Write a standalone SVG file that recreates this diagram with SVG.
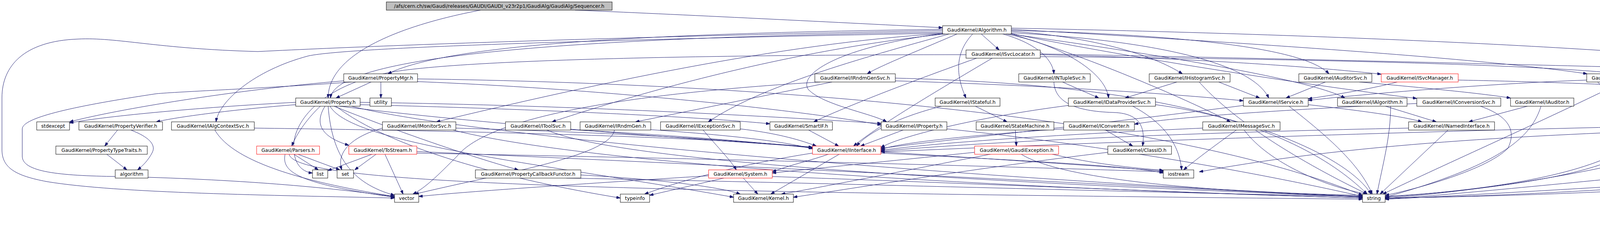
<svg xmlns="http://www.w3.org/2000/svg" width="4728" height="635" viewBox="0 0 4728 635">
<style>
.n rect{fill:#fff;stroke:#000;stroke-width:1}
.n.r rect{stroke:#ff0000}
.n.root rect{fill:#bfbfbf}
.n text{font-family:"DejaVu Sans","Liberation Sans",sans-serif;font-size:12.4px;text-anchor:middle;fill:#000}
.e path{fill:none;stroke:#191970;stroke-width:1;marker-end:url(#a)}
</style>
<defs>
<marker id="a" markerWidth="10" markerHeight="7" refX="10" refY="3.5" orient="auto" markerUnits="userSpaceOnUse"><path d="M0,0 L10,3.5 L0,7 z" fill="#191970" stroke="#191970" stroke-width="1"/></marker>
</defs>
<rect width="4728" height="635" fill="#fff"/>
<g id="edges" class="e">
<path d="M1472,26 C1700,35 2200,60 2413,71"/>
<path d="M1230,26 C1050,60 840,130 840,251"/>
<path d="M2512,87 L2558,128"/>
<path d="M2490,87 C2440,140 2450,200 2473,251"/>
<path d="M2567,87 C2650,110 2695,150 2698,189"/>
<path d="M2589,80 C2800,95 2950,140 3027,189"/>
<path d="M2575,87 C2700,110 2830,180 2838,251"/>
<path d="M2589,78 C2900,85 3330,110 3402,189"/>
<path d="M2589,84 C2900,100 3200,150 3248,251"/>
<path d="M2585,87 C2900,130 3350,200 3443,251"/>
<path d="M2589,86 C2900,150 3400,225 3627,252"/>
<path d="M2589,75 C3200,110 3800,150 4063,189"/>
<path d="M2589,72 C3500,90 4300,130 4600,175 C4720,195 4723,200 4723,260 L4723,380 C4723,430 4650,445 4400,475 C4000,500 3700,505 3546,507"/>
<path d="M2413,78 C1800,90 1100,110 660,132 C400,125 300,95 200,100 C60,105 5,170 5,250 L5,383 C5,430 40,450 120,465 C300,495 700,500 1010,507"/>
<path d="M2413,75 C1700,85 1150,110 993,189"/>
<path d="M2413,82 C1600,95 860,130 846,251"/>
<path d="M2413,85 C1600,100 900,120 790,143 C650,180 560,260 553,312"/>
<path d="M2413,86 C2000,110 1500,220 1117,312"/>
<path d="M2420,87 C2000,130 1600,250 1413,312"/>
<path d="M2450,87 C2350,130 2250,170 2220,189"/>
<path d="M2430,87 C2200,150 1950,220 1813,312"/>
<path d="M2413,86 C2150,120 2040,190 2070,230 C2110,270 2230,290 2270,312"/>
<path d="M2589,87 C2800,150 3050,260 3150,312"/>
<path d="M2500,149 C2300,220 2150,280 2083,312"/>
<path d="M2663,140 C3100,150 3400,175 3536,190"/>
<path d="M2663,145 C3300,150 4000,165 4200,195 C4300,215 4380,235 4400,251"/>
<path d="M2473,140 C1900,140 1200,150 1000,185 C820,220 755,310 752,370 C750,415 770,440 800,443"/>
<path d="M2540,149 C2420,220 2250,320 2185,374"/>
<path d="M2663,138 C3300,150 4300,175 4560,183 C4650,190 4672,230 4672,280 L4672,380 C4672,430 4620,445 4500,455 C4100,480 3700,503 3546,510"/>
<path d="M2497,272 L2578,312"/>
<path d="M2410,272 C2300,300 2220,340 2193,374"/>
<path d="M2720,210 L2813,251"/>
<path d="M2698,210 C2700,260 2750,285 2850,288 C2930,290 2930,340 2925,374"/>
<path d="M3013,210 L2880,251"/>
<path d="M3120,210 L3225,251"/>
<path d="M3070,210 C3150,300 3300,400 3500,497"/>
<path d="M3393,210 L3292,251"/>
<path d="M3480,210 C3650,225 3800,240 3867,251"/>
<path d="M3577,210 C3500,230 3400,245 3349,253"/>
<path d="M3733,205 C4000,210 4400,225 4527,247 C4600,262 4620,290 4620,320 L4620,385 C4620,420 4550,440 4310,473 C3900,500 3700,505 3546,507"/>
<path d="M4173,210 L4230,312"/>
<path d="M4182,210 C4280,260 4360,295 4398,312"/>
<path d="M4062,205 C3800,215 3500,240 3349,257"/>
<path d="M4153,210 C3950,310 3700,420 3540,497"/>
<path d="M4090,210 C4180,300 4190,360 4100,410 C3950,470 3700,495 3546,503"/>
<path d="M2735,270 C2500,300 2300,350 2255,378"/>
<path d="M2958,268 C3200,300 3450,400 3510,497"/>
<path d="M2900,272 C2990,320 3020,380 3025,435"/>
<path d="M3349,268 C3500,285 3600,300 3640,312"/>
<path d="M3183,270 C2800,320 2400,360 2255,380"/>
<path d="M3300,272 C3400,350 3480,420 3513,497"/>
<path d="M3547,272 L3677,312"/>
<path d="M3560,272 C3560,350 3540,420 3525,497"/>
<path d="M3627,265 C3300,280 3000,300 2904,318"/>
<path d="M3790,272 C3870,300 3880,340 3860,380 C3800,440 3600,490 3546,500"/>
<path d="M3910,272 L3760,312"/>
<path d="M3945,272 C3920,350 3850,420 3546,505"/>
<path d="M4463,272 C4520,290 4550,310 4548,325 C4540,370 4450,430 4310,440 C4000,470 3700,500 3546,510"/>
<path d="M301,333 L268,374"/>
<path d="M335,333 C380,350 400,370 390,390 C380,410 365,425 352,435"/>
<path d="M550,333 C600,420 800,470 1010,503"/>
<path d="M651,328 C1200,335 1800,350 2080,377"/>
<path d="M979,328 C900,350 860,390 875,435"/>
<path d="M1167,328 C1600,340 1900,360 2080,378"/>
<path d="M1160,333 C1500,420 2500,480 3488,507"/>
<path d="M1461,332 C1700,345 1900,360 2080,379"/>
<path d="M1400,333 C1600,420 2600,470 3488,504"/>
<path d="M1573,333 C1560,400 1300,440 1062,497"/>
<path d="M1666,332 C1850,345 2000,360 2080,381"/>
<path d="M1895,330 C1980,340 2040,355 2090,374"/>
<path d="M1800,333 C1840,380 1870,410 1885,435"/>
<path d="M2070,333 L2147,374"/>
<path d="M2312,333 L2203,374"/>
<path d="M2424,330 C2900,380 3300,460 3488,503"/>
<path d="M2599,333 L2602,374"/>
<path d="M2830,333 L2900,374"/>
<path d="M2723,330 C2500,345 2300,365 2255,383"/>
<path d="M3079,328 C2700,345 2400,365 2255,385"/>
<path d="M3165,333 C3100,380 3060,410 3030,435"/>
<path d="M3185,333 C3250,420 3400,480 3500,497"/>
<path d="M3606,328 C3000,340 2500,365 2255,387"/>
<path d="M3707,333 L3533,497"/>
<path d="M4233,333 C4180,420 4000,470 3546,505"/>
<path d="M4154,325 C3500,340 2800,365 2255,389"/>
<path d="M4425,333 C4350,380 4000,470 3546,508"/>
<path d="M4344,330 C4000,345 3500,360 3070,440"/>
<path d="M272,394 L325,435"/>
<path d="M751,394 L815,435"/>
<path d="M760,394 L870,435"/>
<path d="M730,394 C720,440 760,470 1010,505"/>
<path d="M740,394 C750,470 1500,490 3488,510"/>
<path d="M955,394 L839,437"/>
<path d="M964,394 L908,435"/>
<path d="M985,394 L1032,497"/>
<path d="M1067,388 C1800,420 3000,480 3488,505"/>
<path d="M1067,392 C2000,410 2700,430 2978,440"/>
<path d="M2150,394 L1973,497"/>
<path d="M2123,394 C2080,410 2030,420 1977,440"/>
<path d="M2080,392 C1900,420 1750,460 1650,497"/>
<path d="M2255,392 C2600,410 2900,425 2978,443"/>
<path d="M2495,390 C2300,410 2100,430 1977,443"/>
<path d="M2540,394 C2300,440 2100,480 2000,497"/>
<path d="M2613,394 C2700,450 3000,490 3488,500"/>
<path d="M2690,394 C2800,420 2900,430 2978,436"/>
<path d="M2836,390 C2500,430 2200,480 2031,505"/>
<path d="M1903,456 L1940,497"/>
<path d="M1853,456 L1663,500"/>
<path d="M1814,450 C1500,470 1200,490 1072,503"/>
<path d="M1977,452 C2500,470 3200,500 3488,507"/>
<path d="M1450,456 C2200,470 3000,495 3488,503"/>
<path d="M1487,448 C1700,460 1850,480 1895,497"/>
<path d="M757,268 C600,280 450,300 400,312"/>
<path d="M757,262 C500,275 250,300 178,315"/>
<path d="M820,272 C790,300 760,340 747,374"/>
<path d="M832,272 C805,315 820,350 893,372"/>
<path d="M855,272 C1000,330 1200,400 1327,435"/>
<path d="M845,272 C900,370 1400,420 1878,505"/>
<path d="M922,268 C1400,280 1800,300 1971,317"/>
<path d="M922,262 C1500,270 2000,300 2256,316"/>
<path d="M900,272 C1200,350 2500,460 3488,503"/>
<path d="M840,272 C850,400 900,470 1010,500"/>
<path d="M870,272 C1500,350 2500,400 2978,438"/>
<path d="M860,272 C1000,380 1300,460 1588,507"/>
<path d="M950,210 L860,251"/>
<path d="M975,210 L975,251"/>
<path d="M880,207 C600,230 300,280 178,312"/>
<path d="M900,210 C700,225 450,235 400,240 C200,270 57,300 57,330 L57,400 C57,440 150,450 300,452 C600,458 850,480 1010,504"/>
<path d="M1069,209 C1600,230 2100,290 2256,320"/>
<path d="M1069,202 C2000,215 3000,300 3488,500"/>
<path d="M2130,210 L1627,312"/>
<path d="M2100,210 C1600,240 1250,300 1170,400 C1120,450 1090,480 1057,497"/>
<path d="M2292,207 C2700,220 3000,240 3183,258"/>
<path d="M2292,200 C2900,215 3300,300 3500,497"/>
</g>
<g id="n_seq" class="n root"><rect x="989" y="5" width="578" height="21"/><text x="1278" y="20">/afs/cern.ch/sw/Gaudi/releases/GAUDI/GAUDI_v23r2p1/GaudiAlg/GaudiAlg/Sequencer.h</text></g>
<g id="n_alg" class="n"><rect x="2413" y="66" width="176" height="21"/><text x="2501" y="81">GaudiKernel/Algorithm.h</text></g>
<g id="n_svcloc" class="n"><rect x="2473" y="128" width="190" height="21"/><text x="2568" y="143">GaudiKernel/ISvcLocator.h</text></g>
<g id="n_propmgr" class="n"><rect x="880" y="189" width="189" height="21"/><text x="974.5" y="204">GaudiKernel/PropertyMgr.h</text></g>
<g id="n_rndmgensvc" class="n"><rect x="2086" y="189" width="206" height="21"/><text x="2189" y="204">GaudiKernel/IRndmGenSvc.h</text></g>
<g id="n_ntuplesvc" class="n"><rect x="2608" y="189" width="183" height="21"/><text x="2699.5" y="204">GaudiKernel/INTupleSvc.h</text></g>
<g id="n_histsvc" class="n"><rect x="2942" y="189" width="207" height="21"/><text x="3045.5" y="204">GaudiKernel/IHistogramSvc.h</text></g>
<g id="n_auditorsvc" class="n"><rect x="3325" y="189" width="187" height="21"/><text x="3418.5" y="204">GaudiKernel/IAuditorSvc.h</text></g>
<g id="n_svcmgr" class="n r"><rect x="3536" y="189" width="197" height="21"/><text x="3634.5" y="204">GaudiKernel/ISvcManager.h</text></g>
<g id="n_chronostatsvc" class="n"><rect x="4062" y="189" width="212" height="21"/><text x="4168" y="204">GaudiKernel/IChronoStatSvc.h</text></g>
<g id="n_property" class="n"><rect x="757" y="251" width="165" height="21"/><text x="839.5" y="266">GaudiKernel/Property.h</text></g>
<g id="n_utility" class="n"><rect x="947" y="251" width="55" height="21"/><text x="974.5" y="266">utility</text></g>
<g id="n_stateful" class="n"><rect x="2394" y="251" width="166" height="21"/><text x="2477" y="266">GaudiKernel/IStateful.h</text></g>
<g id="n_dataprovsvc" class="n"><rect x="2735" y="251" width="223" height="21"/><text x="2846.5" y="266">GaudiKernel/IDataProviderSvc.h</text></g>
<g id="n_service" class="n"><rect x="3183" y="251" width="166" height="21"/><text x="3266" y="266">GaudiKernel/IService.h</text></g>
<g id="n_ialgorithm" class="n"><rect x="3424" y="251" width="178" height="21"/><text x="3513" y="266">GaudiKernel/IAlgorithm.h</text></g>
<g id="n_convsvc" class="n"><rect x="3627" y="251" width="215" height="21"/><text x="3734.5" y="266">GaudiKernel/IConversionSvc.h</text></g>
<g id="n_auditor" class="n"><rect x="3867" y="251" width="162" height="21"/><text x="3948" y="266">GaudiKernel/IAuditor.h</text></g>
<g id="n_typename" class="n"><rect x="4307" y="251" width="218" height="21"/><text x="4416" y="266">GaudiKernel/TypeNameString.h</text></g>
<g id="n_stdexcept" class="n"><rect x="94" y="312" width="84" height="21"/><text x="136" y="327">stdexcept</text></g>
<g id="n_propverifier" class="n"><rect x="202" y="312" width="214" height="21"/><text x="309" y="327">GaudiKernel/PropertyVerifier.h</text></g>
<g id="n_algctx" class="n"><rect x="439" y="312" width="212" height="21"/><text x="545" y="327">GaudiKernel/IAlgContextSvc.h</text></g>
<g id="n_monitorsvc" class="n"><rect x="979" y="312" width="188" height="21"/><text x="1073" y="327">GaudiKernel/IMonitorSvc.h</text></g>
<g id="n_toolsvc" class="n"><rect x="1294" y="312" width="167" height="21"/><text x="1377.5" y="327">GaudiKernel/IToolSvc.h</text></g>
<g id="n_rndmgen" class="n"><rect x="1485" y="312" width="181" height="21"/><text x="1575.5" y="327">GaudiKernel/IRndmGen.h</text></g>
<g id="n_excsvc" class="n"><rect x="1691" y="312" width="204" height="21"/><text x="1793" y="327">GaudiKernel/IExceptionSvc.h</text></g>
<g id="n_smartif" class="n"><rect x="1971" y="312" width="160" height="21"/><text x="2051" y="327">GaudiKernel/SmartIF.h</text></g>
<g id="n_iproperty" class="n"><rect x="2256" y="312" width="168" height="21"/><text x="2340" y="327">GaudiKernel/IProperty.h</text></g>
<g id="n_statemachine" class="n"><rect x="2499" y="312" width="199" height="21"/><text x="2598.5" y="327">GaudiKernel/StateMachine.h</text></g>
<g id="n_converter" class="n"><rect x="2723" y="312" width="181" height="21"/><text x="2813.5" y="327">GaudiKernel/IConverter.h</text></g>
<g id="n_msgsvc" class="n"><rect x="3079" y="312" width="198" height="21"/><text x="3178" y="327">GaudiKernel/IMessageSvc.h</text></g>
<g id="n_namedif" class="n"><rect x="3606" y="312" width="220" height="21"/><text x="3716" y="327">GaudiKernel/INamedInterface.h</text></g>
<g id="n_statsvc" class="n"><rect x="4154" y="312" width="165" height="21"/><text x="4236.5" y="327">GaudiKernel/IStatSvc.h</text></g>
<g id="n_chronosvc" class="n"><rect x="4344" y="312" width="189" height="21"/><text x="4438.5" y="327">GaudiKernel/IChronoSvc.h</text></g>
<g id="n_proptypetraits" class="n"><rect x="143" y="374" width="234" height="21"/><text x="260" y="389">GaudiKernel/PropertyTypeTraits.h</text></g>
<g id="n_parsers" class="n r"><rect x="657" y="374" width="161" height="21"/><text x="737.5" y="389">GaudiKernel/Parsers.h</text></g>
<g id="n_tostream" class="n r"><rect x="893" y="374" width="174" height="21"/><text x="980" y="389">GaudiKernel/ToStream.h</text></g>
<g id="n_iinterface" class="n r"><rect x="2080" y="374" width="175" height="21"/><text x="2167.5" y="389">GaudiKernel/IInterface.h</text></g>
<g id="n_gaudiexc" class="n r"><rect x="2495" y="374" width="215" height="21"/><text x="2602.5" y="389">GaudiKernel/GaudiException.h</text></g>
<g id="n_classid" class="n"><rect x="2836" y="374" width="163" height="21"/><text x="2917.5" y="389">GaudiKernel/ClassID.h</text></g>
<g id="n_algorithm_std" class="n"><rect x="295" y="435" width="84" height="21"/><text x="337" y="450">algorithm</text></g>
<g id="n_list" class="n"><rect x="800" y="435" width="39" height="21"/><text x="819.5" y="450">list</text></g>
<g id="n_set" class="n"><rect x="863" y="435" width="42" height="21"/><text x="884" y="450">set</text></g>
<g id="n_propcb" class="n"><rect x="1217" y="435" width="270" height="21"/><text x="1352" y="450">GaudiKernel/PropertyCallbackFunctor.h</text></g>
<g id="n_system" class="n r"><rect x="1814" y="435" width="163" height="21"/><text x="1895.5" y="450">GaudiKernel/System.h</text></g>
<g id="n_iostream" class="n"><rect x="2978" y="435" width="78" height="21"/><text x="3017" y="450">iostream</text></g>
<g id="n_vector" class="n"><rect x="1010" y="497" width="62" height="21"/><text x="1041" y="512">vector</text></g>
<g id="n_typeinfo" class="n"><rect x="1588" y="497" width="75" height="21"/><text x="1625.5" y="512">typeinfo</text></g>
<g id="n_kernel" class="n"><rect x="1878" y="497" width="153" height="21"/><text x="1954.5" y="512">GaudiKernel/Kernel.h</text></g>
<g id="n_string" class="n"><rect x="3488" y="497" width="58" height="21"/><text x="3517" y="512">string</text></g>
</svg>
